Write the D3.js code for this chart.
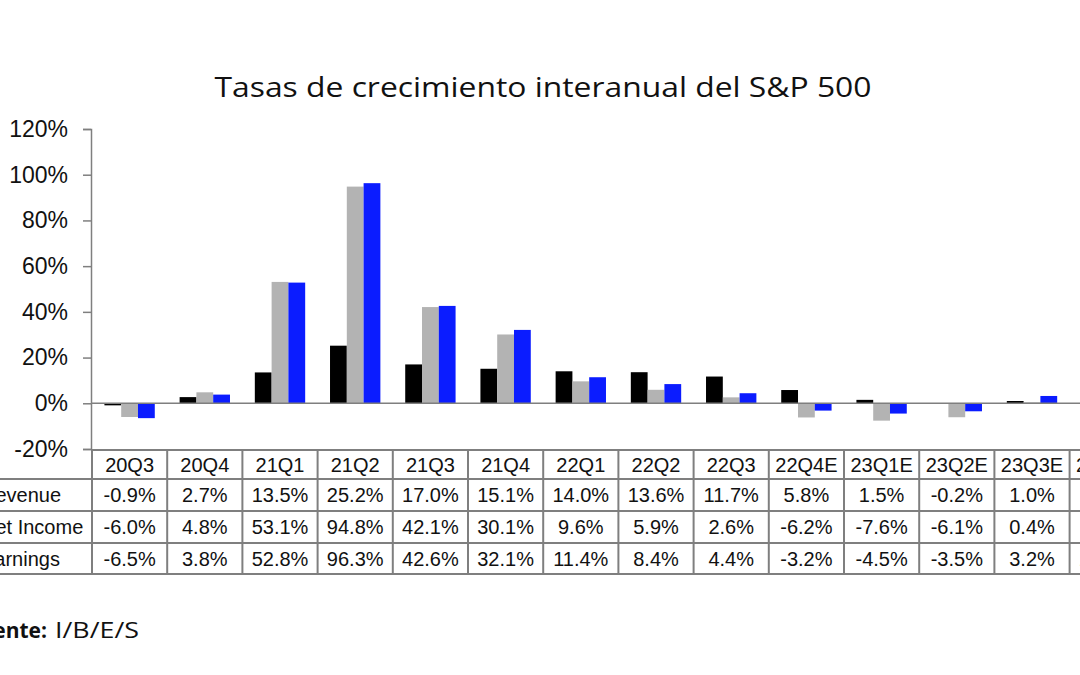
<!DOCTYPE html>
<html>
<head>
<meta charset="utf-8">
<script src="https://cdn.jsdelivr.net/npm/d3@7"></script>
<style>
  html, body { margin: 0; padding: 0; background: #ffffff; overflow: hidden; }
  svg { display: block; }
</style>
</head>
<body>
<svg id="chart" width="1080" height="675"></svg>
<script>
// ---- Data ----
const title = "Tasas de crecimiento interanual del S&P 500";
const categories = ["20Q3","20Q4","21Q1","21Q2","21Q3","21Q4","22Q1","22Q2","22Q3","22Q4E","23Q1E","23Q2E","23Q3E","23Q4E"];
const seriesNames = ["Revenue","Net Income","Earnings"];
const revenue   = [-0.9, 2.7, 13.5, 25.2, 17.0, 15.1, 14.0, 13.6, 11.7, 5.8, 1.5, -0.2, 1.0, 3.4];
const netIncome = [-6.0, 4.8, 53.1, 94.8, 42.1, 30.1, 9.6, 5.9, 2.6, -6.2, -7.6, -6.1, 0.4, 8.5];
const earnings  = [-6.5, 3.8, 52.8, 96.3, 42.6, 32.1, 11.4, 8.4, 4.4, -3.2, -4.5, -3.5, 3.2, 10.6];
const yTicks = [-20, 0, 20, 40, 60, 80, 100, 120];
const sourceLabel = "Fuente:";
const sourceText = "I/B/E/S";

const seriesValues = [revenue, netIncome, earnings];
const colors = ["#000000", "#b3b3b3", "#0b1cff"];

// ---- Layout ----
const svg = d3.select("#chart");
const axisX = 92;
const colW = 75.2;
const yTop = 129, yBottom = 449;
const rowLines = [450, 479, 511, 543, 574];
const gridColor = "#7f7f7f";

const x = d3.scaleBand().domain(categories).range([axisX, axisX + colW * categories.length]).padding(0);
const xs = d3.scaleBand().domain(seriesNames).range([0, x.bandwidth()]).paddingInner(0).paddingOuter(0.74);
const y = d3.scaleLinear().domain([-20, 120]).range([yBottom, yTop]);

// Title
svg.append("text")
  .attr("x", 543).attr("y", 97)
  .attr("text-anchor", "middle")
  .attr("font-family", "'Open Sans', sans-serif")
  .attr("font-size", 28)
  .attr("fill", "#111")
  .attr("textLength", 657)
  .attr("lengthAdjust", "spacingAndGlyphs")
  .text(title);

// Bars
const barData = [];
categories.forEach((c, i) => {
  seriesNames.forEach((s, j) => barData.push({cat: c, ser: s, v: seriesValues[j][i], color: colors[j]}));
});
svg.append("g").selectAll("rect").data(barData).join("rect")
  .attr("x", d => x(d.cat) + xs(d.ser))
  .attr("width", xs.bandwidth())
  .attr("y", d => y(Math.max(0, d.v)))
  .attr("height", d => Math.abs(y(d.v) - y(0)))
  .attr("fill", d => d.color);

// Zero line
svg.append("line")
  .attr("x1", axisX).attr("x2", 1080)
  .attr("y1", y(0)).attr("y2", y(0))
  .attr("stroke", gridColor).attr("stroke-width", 1.5);

// Y axis
const yAxis = svg.append("g")
  .attr("transform", `translate(${axisX - 1},0)`)
  .call(d3.axisLeft(y).tickValues(yTicks).tickSize(8).tickPadding(15).tickFormat(d => d + "%"));
yAxis.select(".domain").attr("stroke", gridColor).attr("stroke-width", 1.5);
yAxis.selectAll(".tick line").attr("stroke", gridColor).attr("stroke-width", 1.5);
yAxis.selectAll(".tick text")
  .attr("font-family", "'Liberation Sans', Arial, sans-serif")
  .attr("font-size", 23)
  .attr("fill", "#111");

// Table grid
const tableG = svg.append("g");
// top border (only data columns)
tableG.append("line")
  .attr("x1", axisX).attr("x2", 1080)
  .attr("y1", rowLines[0]).attr("y2", rowLines[0])
  .attr("stroke", gridColor).attr("stroke-width", 2);
rowLines.slice(1).forEach(ly => {
  tableG.append("line")
    .attr("x1", -30).attr("x2", 1080)
    .attr("y1", ly).attr("y2", ly)
    .attr("stroke", gridColor).attr("stroke-width", 2);
});
categories.concat(["__end"]).forEach((c, i) => {
  const lx = axisX + colW * i;
  tableG.append("line")
    .attr("x1", lx).attr("x2", lx)
    .attr("y1", rowLines[0]).attr("y2", rowLines[4])
    .attr("stroke", gridColor).attr("stroke-width", 2);
});

const tf = "'Liberation Sans', Arial, sans-serif";
// header
tableG.selectAll("text.hdr").data(categories).join("text")
  .attr("class", "hdr")
  .attr("x", d => x(d) + x.bandwidth() / 2)
  .attr("y", (rowLines[0] + rowLines[1]) / 2)
  .attr("dy", "0.35em")
  .attr("text-anchor", "middle")
  .attr("font-family", tf).attr("font-size", 20).attr("fill", "#111")
  .text(d => d);

// rows
seriesNames.forEach((s, j) => {
  const cy = (rowLines[j + 1] + rowLines[j + 2]) / 2;
  tableG.append("text")
    .attr("x", -19).attr("y", cy).attr("dy", "0.35em")
    .attr("font-family", tf).attr("font-size", 20).attr("fill", "#111")
    .text(s);
  tableG.selectAll("text.v" + j).data(categories).join("text")
    .attr("class", "v" + j)
    .attr("x", d => x(d) + x.bandwidth() / 2)
    .attr("y", cy).attr("dy", "0.35em")
    .attr("text-anchor", "middle")
    .attr("font-family", tf).attr("font-size", 20).attr("fill", "#111")
    .text((d, i) => seriesValues[j][i].toFixed(1) + "%");
});

// Source
svg.append("text")
  .attr("x", 47).attr("y", 638)
  .attr("text-anchor", "end")
  .attr("font-family", "'Open Sans', sans-serif")
  .attr("font-weight", 700)
  .attr("font-size", 21)
  .attr("fill", "#111")
  .text(sourceLabel);
svg.append("text")
  .attr("x", 55).attr("y", 638)
  .attr("font-family", "'Open Sans', sans-serif")
  .attr("font-size", 21)
  .attr("fill", "#111")
  .attr("textLength", 84)
  .attr("lengthAdjust", "spacingAndGlyphs")
  .text(sourceText);
</script>
</body>
</html>
